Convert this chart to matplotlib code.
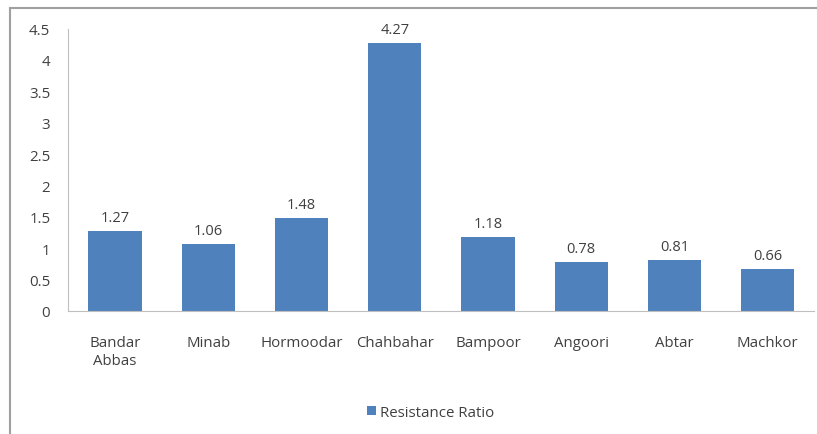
import matplotlib.pyplot as plt

sites = ["Bandar\nAbbas", "Minab", "Hormoodar", "Chahbahar", "Bampoor", "Angoori", "Abtar", "Machkor"]
resistance_ratio = [1.27, 1.06, 1.48, 4.27, 1.18, 0.78, 0.81, 0.66]
y_ticks = [0, 0.5, 1, 1.5, 2, 2.5, 3, 3.5, 4, 4.5]
y_tick_labels = ["0", "0.5", "1", "1.5", "2", "2.5", "3", "3.5", "4", "4.5"]

BAR_COLOR = "#4F81BD"
TEXT_COLOR = "#404040"

plt.rcParams['font.family'] = ['Open Sans', 'DejaVu Sans']

fig = plt.figure(figsize=(8.17, 4.35), dpi=100)
ax = fig.add_axes([0.0837, 0.283, 0.913, 0.649])

x = range(len(sites))
bars = ax.bar(x, resistance_ratio, width=0.57, color=BAR_COLOR, label="Resistance Ratio")

for xi, v in zip(x, resistance_ratio):
    ax.text(xi, v + 0.1, f"{v:.2f}", ha='center', va='bottom', fontsize=10.5, color=TEXT_COLOR)

ax.set_xlim(-0.5, len(sites) - 0.5)
ax.set_ylim(0, 4.5)
ax.set_yticks(y_ticks)
ax.set_yticklabels(y_tick_labels)
ax.set_xticks(list(x))
ax.set_xticklabels(sites, linespacing=1.35)
ax.tick_params(axis='both', length=0, labelsize=10.8, labelcolor=TEXT_COLOR)
ax.tick_params(axis='x', pad=17)
ax.tick_params(axis='y', pad=13)

for side in ['top', 'right']:
    ax.spines[side].set_visible(False)
ax.spines['left'].set_color('#BFBFBF')
ax.spines['bottom'].set_color('#BFBFBF')

leg = fig.legend(handles=[bars], labels=["Resistance Ratio"], loc='center',
                 bbox_to_anchor=(0.527, 0.05), frameon=False, fontsize=10.8,
                 handlelength=0.6, handleheight=0.6, handletextpad=0.3)
for t in leg.get_texts():
    t.set_color(TEXT_COLOR)

# outer chart border (only left and top visible in the crop)
fig.add_artist(plt.Line2D([0.0125, 0.0125], [0, 0.979], color='#A0A0A0', lw=1.5, transform=fig.transFigure))
fig.add_artist(plt.Line2D([0.0125, 1.0], [0.979, 0.979], color='#A0A0A0', lw=1.5, transform=fig.transFigure))

fig.savefig("out.png", dpi=100)
